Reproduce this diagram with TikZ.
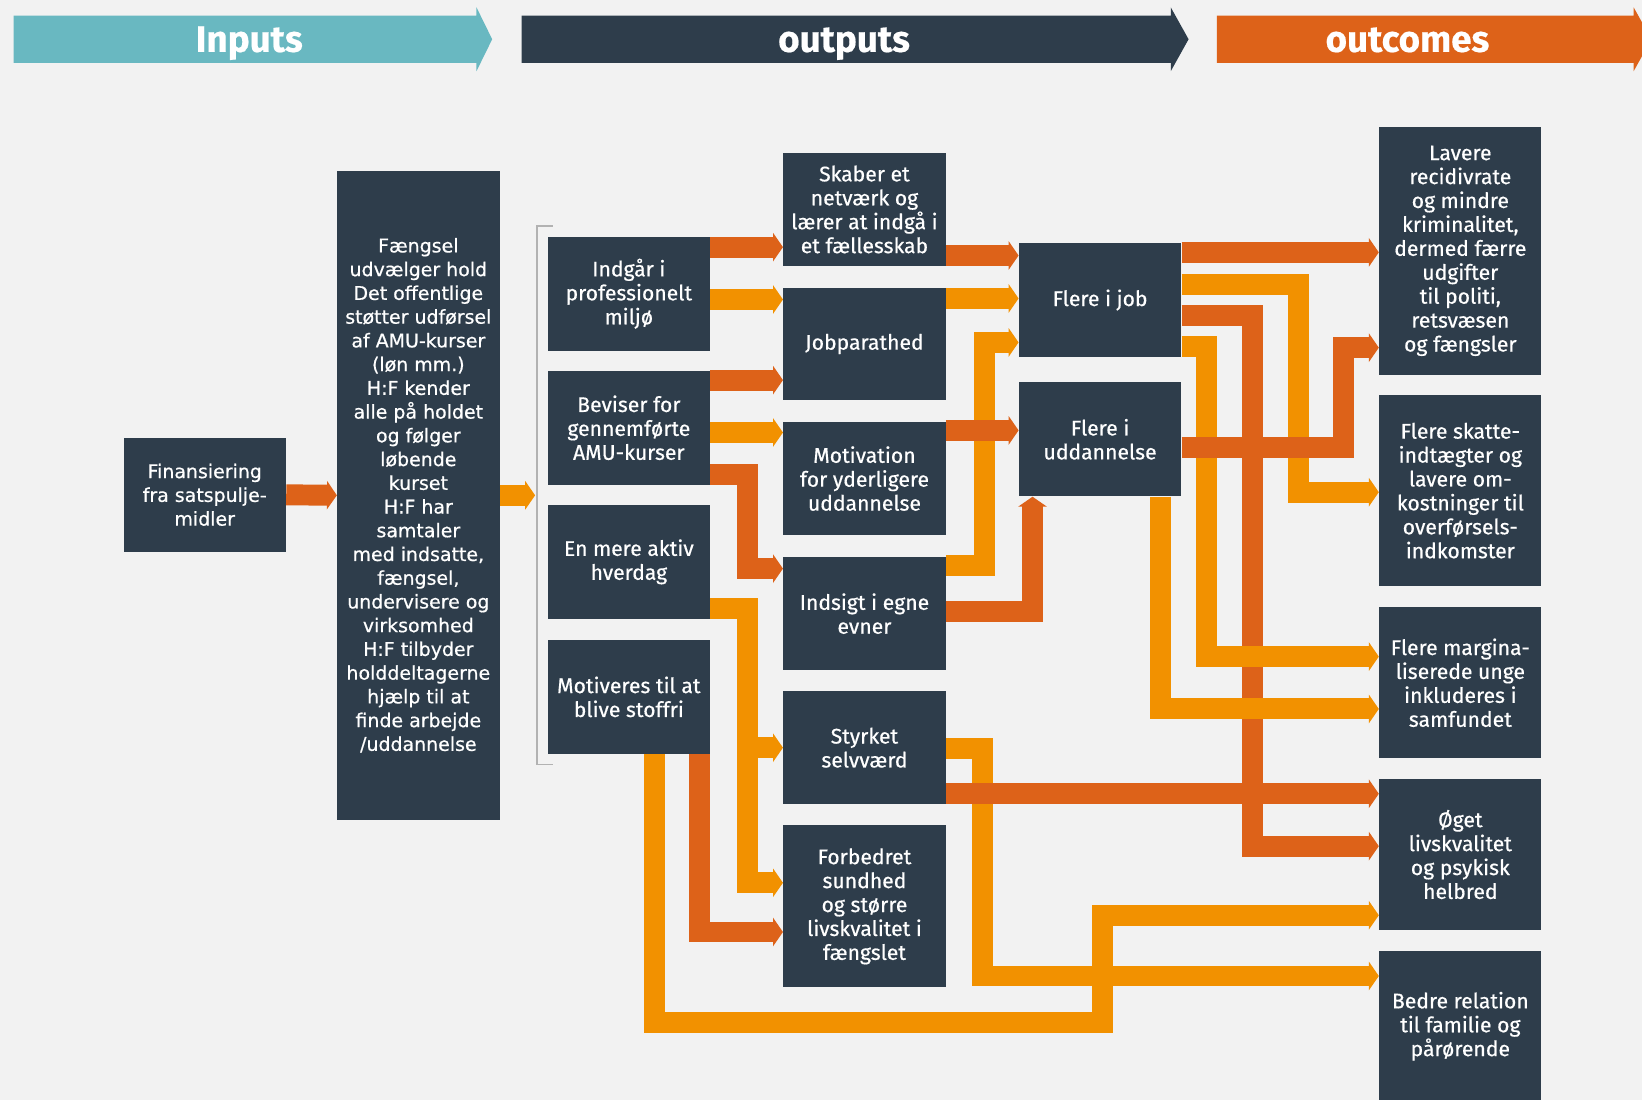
\documentclass[tikz,border=0pt]{standalone}
\usepackage{fontspec}
\setmainfont{Fira Sans}[FakeBold=0.5]
\newfontfamily\dvsans{DejaVu Sans}[FakeBold=0.6]
\usetikzlibrary{arrows.meta}
\definecolor{bggray}{HTML}{F2F2F2}
\definecolor{darkbox}{HTML}{2E3D4B}
\definecolor{darkor}{HTML}{DD6219}
\definecolor{lightor}{HTML}{F29100}
\definecolor{tealbar}{HTML}{69B8C1}
\tikzset{
  blok/.style={fill=darkbox, text=white, minimum width=3.1cm, inner sep=0pt, align=center,
    font=\fontsize{11.5}{13}\selectfont},
  wideblok/.style={blok, font=\dvsans\fontsize{10.3}{12.9}\selectfont},
  dk/.style={draw=darkor, line width=0.4cm, -{Triangle[width=0.54cm,length=0.19cm]}},
  lt/.style={draw=lightor, line width=0.4cm, -{Triangle[width=0.54cm,length=0.19cm]}},
  head/.style={text=white, anchor=base, font=\fontsize{20}{24}\selectfont\bfseries},
}
\begin{document}
\begin{tikzpicture}[x=0.02cm,y=-0.02cm]
\fill[bggray] (0,0) rectangle (1568,1050);
\useasboundingbox (0,0) rectangle (1568,1050);

\fill[tealbar] (13,15) -- (455,15) -- (455,7) -- (470,37.5) -- (455,68) -- (455,60) -- (13,60) -- cycle;
\node[head] (hin) at (238,49.5) {Inputs};
\fill[darkbox] (498,15) -- (1118,15) -- (1118,7) -- (1135,37.5) -- (1118,68) -- (1118,60) -- (498,60) -- cycle;
\node[head] (hout) at (806,49.5) {outputs};
\fill[darkor] (1162,15) -- (1560,15) -- (1560,7) -- (1577,37.5) -- (1560,68) -- (1560,60) -- (1162,60) -- cycle;
\node[head] (hoc) at (1344,49.5) {outcomes};

\node[wideblok, minimum height=2.18cm] (fin) at (195.5,472.5) {Finansiering\\fra satspulje-\\midler};
\node[wideblok, minimum height=12.4cm] (faeng) at (399.5,473) {Fængsel\\udvælger hold\\Det offentlige\\støtter udførsel\\af AMU-kurser\\(løn mm.)\\H:F kender\\alle på holdet\\og følger\\løbende\\kurset\\H:F har\\samtaler\\med indsatte,\\fængsel,\\undervisere og\\virksomhed\\H:F tilbyder\\holddeltagerne\\hjælp til at\\finde arbejde\\/uddannelse};

\draw[gray!60, line width=0.03cm] (528,216) -- (513,216) -- (513,730) -- (528,730);
\coordinate (brk) at (511,473);

\node[blok, minimum height=2.18cm] (indgaar) at (600.5,280.5) {Indgår i\\professionelt\\miljø};
\node[blok, minimum height=2.18cm] (beviser) at (600.5,408.5) {Beviser for\\gennemførte\\AMU-kurser};
\node[blok, minimum height=2.18cm] (aktiv) at (600.5,536.5) {En mere aktiv\\hverdag};
\node[blok, minimum height=2.18cm] (stoffri) at (600.5,665.5) {Motiveres til at\\blive stoffri};

\node[blok, minimum height=2.16cm] (skaber) at (825.5,200) {Skaber et\\netværk og\\lærer at indgå i\\et fællesskab};
\node[blok, minimum height=2.14cm] (jobpar) at (825.5,328.5) {Jobparathed};
\node[blok, minimum height=2.16cm] (motiv) at (825.5,457) {Motivation\\for yderligere\\uddannelse};
\node[blok, minimum height=2.16cm] (indsigt) at (825.5,586) {Indsigt i egne\\evner};
\node[blok, minimum height=2.16cm] (styrket) at (825.5,714) {Styrket\\selvværd};
\node[blok, minimum height=3.1cm] (sundhed) at (825.5,865.5) {Forbedret\\sundhed\\og større\\livskvalitet i\\fængslet};

\node[blok, minimum height=2.18cm] (job) at (1050.5,286.5) {Flere i job};
\node[blok, minimum height=2.18cm] (uddan) at (1050.5,419.5) {Flere i\\uddannelse};

\node[blok, minimum height=4.74cm] (lavere) at (1394.5,239.5) {Lavere\\recidivrate\\og mindre\\kriminalitet,\\dermed færre\\udgifter\\til politi,\\retsvæsen\\og fængsler};
\node[blok, minimum height=3.66cm] (skatte) at (1394.5,468.5) {Flere skatte-\\indtægter og\\lavere om-\\kostninger til\\overførsels-\\indkomster};
\node[blok, minimum height=2.88cm] (margin) at (1394.5,652) {Flere margina-\\liserede unge\\inkluderes i\\samfundet};
\node[blok, minimum height=2.88cm] (oeget) at (1394.5,816) {Øget\\livskvalitet\\og psykisk\\helbred};
\node[blok, minimum height=2.88cm] (bedre) at (1394.5,980) {Bedre relation\\til familie og\\pårørende};

\draw[dk] (fin.east) -- (faeng.west);
\draw[lt] (faeng.east) -- (brk);
\draw[dk] (indgaar.east |- 0,236) -- (skaber.west |- 0,236);
\draw[lt] (indgaar.east |- 0,286) -- (jobpar.west |- 0,286);
\draw[dk] (beviser.east |- 0,363) -- (jobpar.west |- 0,363);
\draw[lt] (beviser.east |- 0,413) -- (motiv.west |- 0,413);
\draw[dk] (beviser.east |- 0,453) -- (714,453) -- (714,543) -- (indsigt.west |- 0,543);
\draw[lt] (aktiv.east |- 0,581) -- (714,581) -- (714,843) -- (sundhed.west |- 0,843);
\draw[lt] (714,714) -- (styrket.west |- 0,714);
\draw[dk] (stoffri.south -| 668,0) -- (668,890) -- (sundhed.west |- 0,890);
\draw[lt] (stoffri.south -| 625,0) -- (625,976) -- (1053,976) -- (1053,874) -- (oeget.west |- 0,874);
\draw[lt] (styrket.east |- 0,715) -- (938,715) -- (938,932) -- (bedre.west |- 0,932);
\draw[dk] (styrket.east |- 0,758) -- (oeget.west |- 0,758);
\draw[lt] (indsigt.east |- 0,540) -- (940,540) -- (940,327) -- (job.west |- 0,327);
\draw[dk] (indsigt.east |- 0,584) -- (986,584) -- (uddan.south -| 986,0);
\draw[dk] (skaber.east |- 0,244) -- (job.west |- 0,244);
\draw[lt] (jobpar.east |- 0,285) -- (job.west |- 0,285);
\draw[dk] (motiv.east |- 0,411) -- (uddan.west |- 0,411);
\draw[dk] (job.east |- 0,241) -- (lavere.west |- 0,241);
\draw[dk] (job.east |- 0,301) -- (1196,301) -- (1196,808) -- (oeget.west |- 0,808);
\draw[lt] (job.east |- 0,272) -- (1240,272) -- (1240,470) -- (skatte.west |- 0,470);
\draw[lt] (job.east |- 0,331) -- (1152,331) -- (1152,627) -- (margin.west |- 0,627);
\draw[lt] (uddan.south -| 1108,0) -- (1108,677) -- (margin.west |- 0,677);
\draw[dk] (uddan.east |- 0,427) -- (1283,427) -- (1283,332) -- (lavere.west |- 0,332);
\end{tikzpicture}
\end{document}
